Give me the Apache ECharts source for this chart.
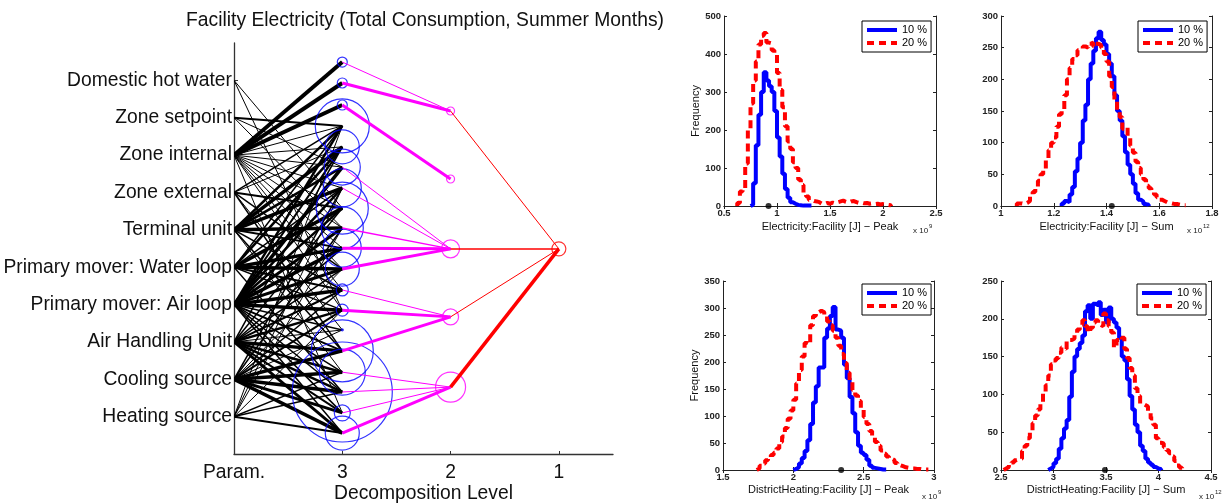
<!DOCTYPE html>
<html>
<head>
<meta charset="utf-8">
<script src="https://cdn.jsdelivr.net/npm/echarts@6/dist/echarts.min.js"></script>
<style>
html,body{margin:0;padding:0;background:#fff}
#c{width:1222px;height:504px}
</style>
</head>
<body>
<div id="c"></div>
<script>
// ---------- decomposition diagram ----------
const paramNames = ['Domestic hot water', 'Zone setpoint', 'Zone internal', 'Zone external', 'Terminal unit',
  'Primary mover: Water loop', 'Primary mover: Air loop', 'Air Handling Unit', 'Cooling source', 'Heating source'];
const levelTicks = ['Param.', '3', '2', '1'];

// vertical position of every node of each decomposition level
const level3Pos = [10.49, 9.93, 9.34, 8.78, 8.22, 7.68, 7.12, 6.58, 6.05, 5.51, 4.95, 4.39, 3.85, 3.32, 2.76, 2.19, 1.66, 1.10, 0.56];
const level2Pos = [9.18, 7.36, 5.49, 3.67, 1.79];
const level1Pos = [5.49];

// node weights (circle diameters)
const level3Weight = [10, 10, 10, 54, 34, 36, 38, 52, 42, 38, 34, 12, 12, 2, 62, 46, 100, 16, 34];
const level2Weight = [8, 8, 18, 16, 30];
const level1Weight = [14];

// [parameter, level-3 node, strength]
const paramLinks = [
  [2, 0, 4], [2, 1, 4], [2, 2, 4],
  // Domestic hot water
  [0, 7, 1], [0, 12, 1],
  // Zone setpoint
  [1, 3, 2], [1, 5, 1], [1, 8, 1],
  // Zone internal
  [2, 3, 1], [2, 4, 1], [2, 5, 1], [2, 6, 1], [2, 7, 1], [2, 8, 1], [2, 9, 1], [2, 10, 1], [2, 11, 1], [2, 12, 1], [2, 17, 1],
  // Zone external
  [3, 3, 1.5], [3, 4, 1], [3, 7, 2], [3, 10, 1.5], [3, 13, 1], [3, 14, 1.5],
  // Terminal unit
  [4, 3, 2.5], [4, 4, 3.5], [4, 5, 2.5], [4, 6, 3.5], [4, 8, 3.5], [4, 9, 2], [4, 11, 1.5], [4, 14, 1.5], [4, 15, 1],
  // Primary mover: Water loop
  [5, 3, 1.5], [5, 4, 2.5], [5, 6, 1.5], [5, 7, 3.5], [5, 9, 3.5], [5, 10, 3.5], [5, 11, 2], [5, 12, 1.5], [5, 16, 1.5],
  // Primary mover: Air loop
  [6, 3, 2.5], [6, 4, 2], [6, 5, 3.5], [6, 6, 2.5], [6, 7, 2.5], [6, 8, 3], [6, 9, 3.5], [6, 10, 3], [6, 11, 3.5],
  [6, 12, 3.5], [6, 13, 1.5], [6, 14, 2], [6, 15, 1.5], [6, 16, 1.5], [6, 17, 1.5], [6, 18, 1.5],
  // Air Handling Unit
  [7, 4, 1.5], [7, 7, 1.5], [7, 9, 1.5], [7, 10, 1.5], [7, 11, 2], [7, 12, 2.5], [7, 13, 1], [7, 14, 3.5], [7, 15, 2.5],
  [7, 16, 2.5], [7, 17, 2], [7, 18, 3],
  // Cooling source
  [8, 6, 1.5], [8, 8, 1.5], [8, 10, 1], [8, 11, 1.5], [8, 12, 2], [8, 13, 1], [8, 14, 3.5], [8, 15, 3.5], [8, 16, 3.5],
  [8, 17, 3], [8, 18, 3.5],
  // Heating source
  [9, 3, 1], [9, 6, 1], [9, 8, 1], [9, 12, 1], [9, 15, 1.5], [9, 16, 1.5], [9, 18, 2]
];
// [level-3 node, level-2 node, strength]
const level3Links = [
  [0, 0, 1], [1, 0, 3], [2, 1, 3],
  [5, 2, 1], [6, 2, 1], [8, 2, 1.5], [9, 2, 3], [10, 2, 3],
  [11, 3, 1], [12, 3, 3], [14, 3, 3],
  [15, 4, 1], [16, 4, 1], [17, 4, 1], [18, 4, 3]
];
// [level-2 node, level-1 node, strength]
const level2Links = [[0, 0, 1], [2, 0, 1.5], [3, 0, 1], [4, 0, 3.5]];

// ---------- output histograms (bin start, bin width, counts) ----------
const elecPeakStart10 = 0.75, elecPeakWidth10 = 0.025;
const elecPeak10 = [3, 60, 160, 240, 300, 352, 330, 315, 300, 250, 180, 130, 85, 45, 22, 10, 6, 3, 2, 1, 1, 1, 1];
const elecPeakStart20 = 0.625, elecPeakWidth20 = 0.025;
const elecPeak20 = [8, 38, 45, 112, 200, 270, 330, 380, 425, 448, 455, 430, 428, 410, 400, 350, 305, 260, 210, 170,
  150, 115, 100, 70, 55, 35, 25, 16, 13, 12, 10, 6, 5, 8, 6, 9, 7, 10, 12, 14, 11, 9, 12, 13, 10, 8, 9, 7, 8, 6,
  7, 5, 6, 4, 5, 3, 3, 2];

const elecSumStart10 = 1.23, elecSumWidth10 = 0.01;
const elecSum10 = [4, 8, 6, 18, 30, 55, 75, 100, 135, 160, 200, 225, 245, 265, 275, 262, 255, 240, 225, 205,
  175, 150, 135, 110, 85, 65, 50, 35, 20, 10, 7, 3, 2];
const elecSumStart20 = 1.06, elecSumWidth20 = 0.01;
const elecSum20 = [4, 4, 3, 5, 8, 15, 22, 30, 40, 50, 58, 72, 88, 100, 108, 125, 145, 150, 175, 200,
  218, 232, 238, 246, 248, 252, 250, 256, 258, 252, 256, 254, 250, 240, 228, 205, 188, 168, 150, 140,
  122, 125, 108, 95, 84, 70, 60, 50, 42, 32, 28, 22, 18, 14, 10, 8, 6, 5, 4, 3, 3, 2, 1, 1];

const heatPeakStart10 = 2.0, heatPeakWidth10 = 0.02;
const heatPeak10 = [2, 5, 12, 22, 35, 55, 85, 125, 155, 190, 190, 245, 262, 285, 302, 260, 258, 245, 195, 170,
  135, 105, 70, 45, 32, 28, 19, 8, 4, 3, 2, 1, 1];
const heatPeakStart20 = 1.74, heatPeakWidth20 = 0.02;
const heatPeak20 = [3, 8, 12, 18, 22, 28, 32, 40, 52, 62, 78, 95, 110, 130, 160, 185, 210, 235, 232, 268,
  285, 292, 295, 292, 285, 275, 268, 258, 245, 230, 215, 198, 180, 165, 148, 138, 128, 115, 98, 85,
  72, 62, 52, 45, 36, 30, 25, 21, 18, 13, 9, 7, 5, 4, 3, 3, 2, 2, 1, 1, 1];

const heatSumStart10 = 2.95, heatSumWidth10 = 0.025;
const heatSum10 = [2, 4, 9, 15, 28, 42, 55, 66, 97, 130, 150, 160, 168, 178, 210, 218, 200, 220, 218, 222,
  205, 212, 195, 215, 200, 195, 188, 175, 150, 145, 120, 98, 80, 60, 50, 32, 25, 15, 10, 7, 4, 2, 1];
const heatSumStart20 = 2.525, heatSumWidth20 = 0.025;
const heatSum20 = [2, 4, 7, 10, 13, 14, 15, 25, 32, 42, 52, 62, 72, 80, 90, 102, 112, 125, 140, 145,
  148, 155, 162, 160, 172, 172, 174, 180, 186, 192, 198, 190, 182, 188, 195, 198, 192, 190, 207, 198,
  190, 182, 162, 172, 170, 175, 160, 148, 135, 125, 108, 98, 88, 86, 84, 76, 68, 60, 42, 36,
  35, 30, 26, 22, 18, 12, 6, 3];

// nominal values marked on each axis
const nominal = [0.92, 1.42, 2.34, 3.49];

// ---------- build chart ----------
const FONT = "'Liberation Sans', Arial, Helvetica, sans-serif";
const paramY = i => paramNames.length - i;

function steps(start, width, counts) {
  const pts = [[start, 0]];
  counts.forEach((c, i) => pts.push([+(start + i * width).toFixed(5), c]));
  pts.push([+(start + counts.length * width).toFixed(5), 0]);
  return pts;
}

const gridBase = {containLabel: false, outerBoundsMode: 'none'};
const grids = [
  Object.assign({left: 234, top: 43, width: 379, height: 411}, gridBase),
  Object.assign({left: 724, top: 16, width: 212, height: 190}, gridBase),
  Object.assign({left: 1001, top: 16, width: 211, height: 190}, gridBase),
  Object.assign({left: 723, top: 281, width: 211, height: 189}, gridBase),
  Object.assign({left: 1001, top: 281, width: 210, height: 189}, gridBase)
];

const panels = [
  {x: [0.5, 2.5, 0.5], y: [0, 500, 100], name: 'Electricity:Facility [J] \u2212 Peak', gap: 15, freq: true,
   d10: steps(elecPeakStart10, elecPeakWidth10, elecPeak10), d20: steps(elecPeakStart20, elecPeakWidth20, elecPeak20)},
  {x: [1, 1.8, 0.2], y: [0, 300, 50], name: 'Electricity:Facility [J] \u2212 Sum', gap: 15, freq: false,
   d10: steps(elecSumStart10, elecSumWidth10, elecSum10), d20: steps(elecSumStart20, elecSumWidth20, elecSum20)},
  {x: [1.5, 3, 0.5], y: [0, 350, 50], name: 'DistrictHeating:Facility [J] \u2212 Peak', gap: 14, freq: true,
   d10: steps(heatPeakStart10, heatPeakWidth10, heatPeak10), d20: steps(heatPeakStart20, heatPeakWidth20, heatPeak20)},
  {x: [2.5, 4.5, 0.5], y: [0, 250, 50], name: 'DistrictHeating:Facility [J] \u2212 Sum', gap: 14, freq: false,
   d10: steps(heatSumStart10, heatSumWidth10, heatSum10), d20: steps(heatSumStart20, heatSumWidth20, heatSum20)}
];

const BIG = 19.3;
const axisLineStyle = {lineStyle: {color: '#222', width: 1}};
const xAxes = [{
  type: 'value', gridIndex: 0, min: 0, max: 3.5,
  axisLine: {show: true, lineStyle: {color: '#333', width: 1.3}},
  axisTick: {show: true, inside: true, length: 3, customValues: [0, 1, 2, 3], lineStyle: {color: '#333'}},
  axisLabel: {customValues: [0, 1, 2, 3], formatter: v => levelTicks[Math.round(v)], fontSize: BIG, fontFamily: FONT, color: '#111', margin: 9},
  splitLine: {show: false},
  name: 'Decomposition Level', nameLocation: 'middle', nameGap: 30, nameMoveOverlap: false,
  nameTextStyle: {fontSize: BIG, fontFamily: FONT, color: '#111'}
}];
const yAxes = [{
  type: 'value', gridIndex: 0, min: 0, max: 11,
  axisLine: {show: true, lineStyle: {color: '#333', width: 1.3}},
  axisTick: {show: true, inside: true, length: 4, customValues: [1, 2, 3, 4, 5, 6, 7, 8, 9, 10], lineStyle: {color: '#333'}},
  axisLabel: {customValues: [1, 2, 3, 4, 5, 6, 7, 8, 9, 10], formatter: v => paramNames[paramNames.length - Math.round(v)],
    fontSize: BIG, fontFamily: FONT, color: '#111', margin: 2},
  splitLine: {show: false}
}];

const series = [];
const legends = [];
const graphics = [];

// links parameter -> level 3
series.push({
  type: 'lines', coordinateSystem: 'cartesian2d', xAxisIndex: 0, yAxisIndex: 0, z: 2, silent: true,
  lineStyle: {color: '#000', opacity: 1, curveness: 0},
  data: paramLinks.map(([p, n, w]) => ({coords: [[0, paramY(p)], [1, level3Pos[n]]], lineStyle: {width: w}}))
});
series.push({
  type: 'scatter', xAxisIndex: 0, yAxisIndex: 0, z: 3, silent: true, clip: false,
  symbolSize: v => v[2],
  itemStyle: {color: 'rgba(0,0,0,0)', borderColor: '#0000ff', borderWidth: 1.2},
  data: level3Pos.map((y, i) => [1, y, level3Weight[i]])
});
series.push({
  type: 'lines', coordinateSystem: 'cartesian2d', xAxisIndex: 0, yAxisIndex: 0, z: 4, silent: true,
  lineStyle: {color: '#ff00ff', opacity: 1, curveness: 0},
  data: level3Links.map(([a, b, w]) => ({coords: [[1, level3Pos[a]], [2, level2Pos[b]]], lineStyle: {width: w}}))
});
series.push({
  type: 'scatter', xAxisIndex: 0, yAxisIndex: 0, z: 5, silent: true, clip: false,
  symbolSize: v => v[2],
  itemStyle: {color: 'rgba(0,0,0,0)', borderColor: '#ff00ff', borderWidth: 1.2},
  data: level2Pos.map((y, i) => [2, y, level2Weight[i]])
});
series.push({
  type: 'lines', coordinateSystem: 'cartesian2d', xAxisIndex: 0, yAxisIndex: 0, z: 6, silent: true,
  lineStyle: {color: '#ff0000', opacity: 1, curveness: 0},
  data: level2Links.map(([a, b, w]) => ({coords: [[2, level2Pos[a]], [3, level1Pos[b]]], lineStyle: {width: w}}))
});
series.push({
  type: 'scatter', xAxisIndex: 0, yAxisIndex: 0, z: 7, silent: true, clip: false,
  symbolSize: v => v[2],
  itemStyle: {color: 'rgba(0,0,0,0)', borderColor: '#ff0000', borderWidth: 1.2},
  data: level1Pos.map((y, i) => [3, y, level1Weight[i]])
});

graphics.push({
  type: 'text', x: 425, y: 21, silent: true,
  style: {text: 'Facility Electricity (Total Consumption, Summer Months)', fontSize: BIG, fontFamily: FONT,
    fill: '#111', textAlign: 'center', textVerticalAlign: 'middle'}
});

const expLabels = [
  {x: 913, y: 231, e: '9'}, {x: 1187, y: 231, e: '12'},
  {x: 922, y: 497, e: '9'}, {x: 1199, y: 497, e: '12'}
];
const legendPos = [[862, 21], [1138, 21], [862, 284], [1137, 284]];
const solidIcon = 'path://M0,0h30v4h-30z';
const dashIcon = 'path://M0,0h7v4h-7zM12,0h7v4h-7zM24,0h6v4h-6z';

panels.forEach((p, k) => {
  const g = k + 1;
  const tickStyle = {show: true, inside: true, length: 3, lineStyle: {color: '#222'}};
  const bx = xAxes.length;
  xAxes.push({
    type: 'value', gridIndex: g, min: p.x[0], max: p.x[1], interval: p.x[2], position: 'bottom',
    axisLine: Object.assign({show: true}, axisLineStyle), axisTick: tickStyle,
    axisLabel: {fontSize: 9.5, fontWeight: 'bold', fontFamily: FONT, color: '#222', margin: 2},
    splitLine: {show: false},
    name: p.name, nameLocation: 'middle', nameGap: p.gap,
    nameTextStyle: {fontSize: 11, fontFamily: FONT, color: '#111'}
  });
  xAxes.push({
    type: 'value', gridIndex: g, min: p.x[0], max: p.x[1], interval: p.x[2], position: 'top',
    axisLine: Object.assign({show: true}, axisLineStyle), axisTick: tickStyle,
    axisLabel: {show: false}, splitLine: {show: false}
  });
  const by = yAxes.length;
  yAxes.push({
    type: 'value', gridIndex: g, min: p.y[0], max: p.y[1], interval: p.y[2], position: 'left',
    axisLine: Object.assign({show: true}, axisLineStyle), axisTick: tickStyle,
    axisLabel: {fontSize: 9.5, fontWeight: 'bold', fontFamily: FONT, color: '#222', margin: 3},
    splitLine: {show: false},
    name: p.freq ? 'Frequency' : '', nameLocation: 'middle', nameGap: 23, nameRotate: 90,
    nameTextStyle: {fontSize: 11, fontFamily: FONT, color: '#111'}
  });
  yAxes.push({
    type: 'value', gridIndex: g, min: p.y[0], max: p.y[1], interval: p.y[2], position: 'right',
    axisLine: Object.assign({show: true}, axisLineStyle), axisTick: tickStyle,
    axisLabel: {show: false}, splitLine: {show: false}
  });
  series.push({
    type: 'line', name: '10 %', xAxisIndex: bx, yAxisIndex: by, step: 'end', symbol: 'none', clip: false, z: 3,
    lineStyle: {color: '#0000ff', width: 4}, itemStyle: {color: '#0000ff'}, data: p.d10
  });
  series.push({
    type: 'line', name: '20 %', xAxisIndex: bx, yAxisIndex: by, step: 'end', symbol: 'none', clip: false, z: 4,
    lineStyle: {color: '#ff0000', width: 4, type: [8, 5], cap: 'butt'}, itemStyle: {color: '#ff0000'}, data: p.d20
  });
  series.push({
    type: 'scatter', xAxisIndex: bx, yAxisIndex: by, symbolSize: 6, clip: false, z: 6, silent: true,
    itemStyle: {color: '#000'}, data: [[nominal[k], 0]]
  });
  legends.push({
    orient: 'vertical', left: legendPos[k][0], top: legendPos[k][1],
    data: [{name: '10 %', icon: solidIcon}, {name: '20 %', icon: dashIcon}],
    itemWidth: 30, itemHeight: 4, itemGap: 1, padding: [3, 4, 3, 5], selectedMode: false,
    borderColor: '#000', borderWidth: 1, backgroundColor: '#fff',
    textStyle: {fontSize: 11, fontFamily: FONT, color: '#000', lineHeight: 12}
  });
  const e = expLabels[k];
  graphics.push({type: 'text', x: e.x, y: e.y, silent: true,
    style: {text: 'x 10', fontSize: 8, fontFamily: FONT, fill: '#222', textVerticalAlign: 'middle'}});
  graphics.push({type: 'text', x: e.x + 16, y: e.y - 5, silent: true,
    style: {text: e.e, fontSize: 6, fontFamily: FONT, fill: '#222', textVerticalAlign: 'middle'}});
});

const chart = echarts.init(document.getElementById('c'));
chart.setOption({
  animation: false,
  backgroundColor: '#fff',
  grid: grids,
  xAxis: xAxes,
  yAxis: yAxes,
  legend: legends,
  series: series,
  graphic: graphics
});
</script>
</body>
</html>
